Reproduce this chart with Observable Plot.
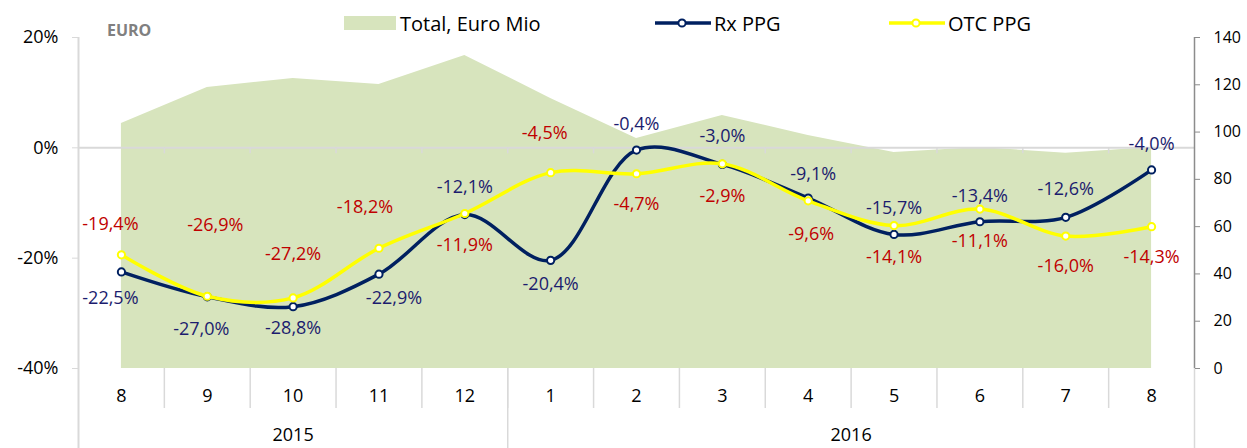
<!DOCTYPE html>
<html><head><meta charset="utf-8">
<script src="https://cdn.jsdelivr.net/npm/d3@7"></script>
<script src="https://cdn.jsdelivr.net/npm/@observablehq/plot@0.6"></script>
<style>
body{margin:0;background:#fff;font-family:"Open Sans",sans-serif;}
#wrap{position:relative;width:1247px;height:448px;overflow:hidden;}
#chart svg{display:block;}
.item{position:absolute;top:9px;height:28px;display:flex;align-items:center;font-size:20px;color:#000;white-space:nowrap;}
.item svg{display:block;}
#euro{position:absolute;left:107px;top:19px;font-size:16px;font-weight:bold;color:#808080;}
</style></head><body>
<div id="wrap"><div id="chart"></div>
<div id="euro">EURO</div>
<div class="item" style="left:344px"><svg width="52" height="14"><rect x="0" y="0" width="52" height="14" fill="#d7e4bd"/></svg><span style="margin-left:4px">Total, Euro Mio</span></div>
<div class="item" style="left:655px"><svg width="56" height="14"><line x1="0" x2="56" y1="7" y2="7" stroke="#002060" stroke-width="3.5"/><circle cx="27" cy="7" r="3.6" fill="#fff" stroke="#002060" stroke-width="2"/></svg><span style="margin-left:3px">Rx PPG</span></div>
<div class="item" style="left:889px"><svg width="56" height="14"><line x1="0" x2="56" y1="7" y2="7" stroke="#ffff00" stroke-width="3.5"/><circle cx="27" cy="7" r="3.6" fill="#fff" stroke="#ffff00" stroke-width="2"/></svg><span style="margin-left:3px">OTC PPG</span></div>
</div>
<script>
// ---- data ----
const months = ["8","9","10","11","12","1","2","3","4","5","6","7","8"];
const yearLabels = ["2015","2016"];
const yearStart = [0, 5];           // index of first month of each year
const rxPPG  = [-22.5,-27.0,-28.8,-22.9,-12.1,-20.4,-0.4,-3.0,-9.1,-15.7,-13.4,-12.6,-4.0];
const otcPPG = [-19.4,-26.9,-27.2,-18.2,-11.9,-4.5,-4.7,-2.9,-9.6,-14.1,-11.1,-16.0,-14.3];
const totalEuroMio = [103.6,118.9,122.7,120.1,132.4,114.2,97.3,107,98.6,91.4,93.5,91,93.5];
const leftTicks = [-40,-20,0,20];
const rightTicks = [0,20,40,60,80,100,120,140];

// ---- label placement (pixel offsets) ----
const rxDx  = [-11,-6,0,15,0,0,0,0,5,0,0,0,0];
const rxDy  = [26,32,22,24,-27,24,-26,-28,-24,-26,-26,-28,-26];
const otcDx = [-11,8,0,-14,0,-6,0,0,3,0,0,0,0];
const otcDy = [-31,-71,-44,-41,32,-39,30,32,33,32,32,30,31];

const idx = months.map((_, i) => i);
const n = months.length;
const rightMax = 140, leftMin = -40, leftMax = 20;
const toLeft = v => leftMin + v * (leftMax - leftMin) / rightMax;
const fromLeft = d => Math.round((d - leftMin) * rightMax / (leftMax - leftMin));
const fmt = v => v.toFixed(1).replace(".", ",") + "%";
const navy = "#002060", yellow = "#ffff00", labelNavy = "#1c1c6e", labelRed = "#c00000";
const light = "#d9d9d9", mid = "#8c8c8c";

const boundaries = idx.slice(1).map(i => i - 0.5);
const yearBounds = [-0.5, yearStart[1] - 0.5, n - 0.5];
const yearCenters = [ (yearStart[0] - 0.5 + yearStart[1] - 0.5) / 2, (yearStart[1] - 0.5 + n - 0.5) / 2 ];

const labelMarks = (series, dxs, dys, color) => idx.map(i =>
  Plot.text([i], {x: d => d, y: d => series[d], text: d => fmt(series[d]),
    dx: dxs[i], dy: dys[i], fill: color, fontSize: 18}));

const chart = Plot.plot({
  width: 1247, height: 448,
  marginLeft: 78, marginRight: 53, marginTop: 37, marginBottom: 80,
  x: {type: "linear", domain: [-0.5, n - 0.5], axis: null},
  y: {domain: [leftMin, leftMax], axis: null},
  style: {fontFamily: "Open Sans", fontSize: "18px", background: "#fff", overflow: "visible"},
  marks: [
    Plot.areaY(idx, {x: d => d, y1: leftMin, y2: d => toLeft(totalEuroMio[d]), fill: "#d7e4bd"}),
    Plot.ruleY([0], {stroke: light, strokeWidth: 2}),
    Plot.ruleX(boundaries, {y1: 0, y2: 0, insetBottom: -6, stroke: light, strokeWidth: 1.5}),
    // left axis line (extends through category area)
    Plot.ruleX([-0.5], {y1: leftMax, y2: leftMin, insetBottom: -80, stroke: light, strokeWidth: 2}),
    // month separators
    Plot.ruleX(boundaries, {y1: leftMin, y2: leftMin, insetBottom: -40, stroke: light, strokeWidth: 1.5}),
    // year separators
    Plot.ruleX(yearBounds.slice(1), {y1: leftMin, y2: leftMin, insetBottom: -80, stroke: light, strokeWidth: 1.5}),
    // right axis line
    Plot.ruleX([n - 0.5], {y1: leftMax, y2: leftMin, stroke: mid, strokeWidth: 1.5}),
    Plot.axisY(leftTicks, {anchor: "left", tickSize: 6, tickPadding: 14, tickFormat: d => `${d}%`,
      stroke: light, color: "#000", fill: "#000", fontSize: 18}),
    Plot.axisY(rightTicks.map(toLeft), {anchor: "right", tickSize: 5, tickPadding: 14,
      tickFormat: d => String(fromLeft(d)), stroke: mid, color: "#000", fill: "#000", fontSize: 16}),
    Plot.text(idx, {x: d => d, y: leftMin, dy: 28, text: d => months[d], fill: "#000", fontSize: 18}),
    Plot.text(yearLabels, {x: (d, i) => yearCenters[i], y: leftMin, dy: 67, text: d => d, fill: "#000", fontSize: 18}),
    Plot.line(idx, {x: d => d, y: d => rxPPG[d], stroke: navy, strokeWidth: 3.5, curve: "catmull-rom"}),
    Plot.dot(idx, {x: d => d, y: d => rxPPG[d], r: 3.6, fill: "#fff", stroke: navy, strokeWidth: 2}),
    Plot.line(idx, {x: d => d, y: d => otcPPG[d], stroke: yellow, strokeWidth: 3.5, curve: "catmull-rom"}),
    Plot.dot(idx, {x: d => d, y: d => otcPPG[d], r: 3.6, fill: "#fff", stroke: yellow, strokeWidth: 2}),
    ...labelMarks(rxPPG, rxDx, rxDy, labelNavy),
    ...labelMarks(otcPPG, otcDx, otcDy, labelRed)
  ]
});
document.getElementById("chart").appendChild(chart);
</script>
</body></html>
